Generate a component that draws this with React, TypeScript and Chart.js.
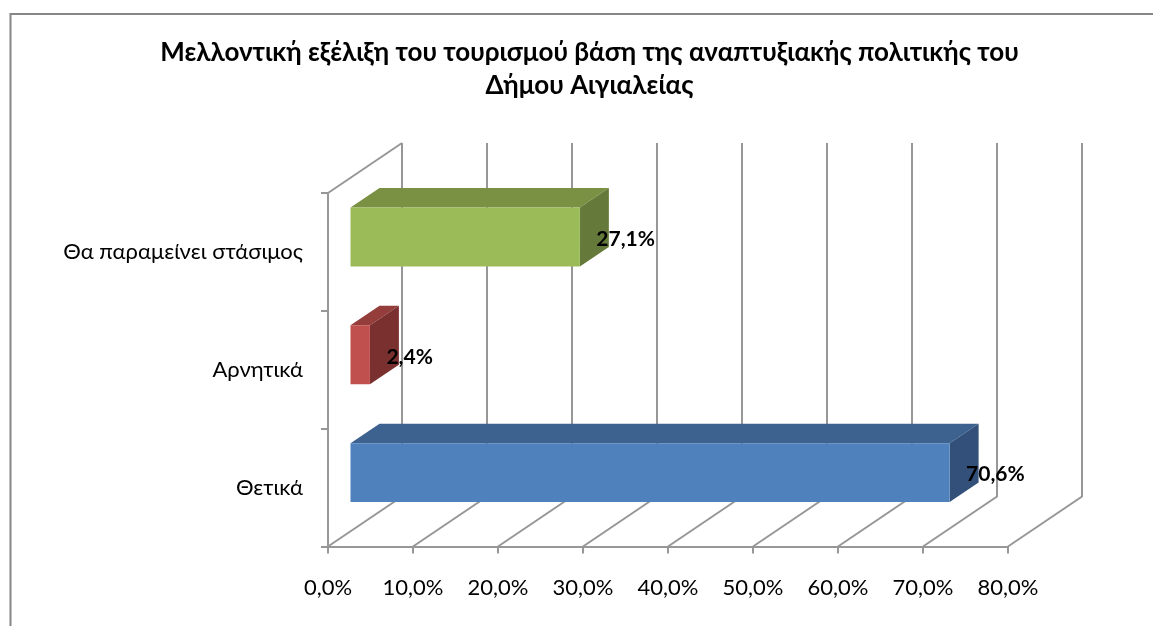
import React, { useEffect, useRef } from "react";
import { Chart, registerables } from "chart.js";

Chart.register(...registerables);

const FONT = "Lato, 'Noto Sans', sans-serif";
const titleLines = [
  "Μελλοντική εξέλιξη του τουρισμού βάση της αναπτυξιακής πολιτικής του",
  "Δήμου Αιγιαλείας",
];
const categories = ["Θα παραμείνει στάσιμος", "Αρνητικά", "Θετικά"];
const values = [27.1, 2.4, 70.6];
const frontColors = ["#9BBB59", "#C0504D", "#4F81BD"];
const topColors = ["#7A9144", "#943D3A", "#3D6290"];
const sideColors = ["#657A3A", "#7A302E", "#325079"];
const GRID = "#979797";
const DEPTH_X = 74;
const DEPTH_Y = -50;
const BAR_DX = 21.5;
const BAR_DY = -15;
const BAR_DEPTH_X = 29;
const BAR_DEPTH_Y = -19.5;

const pct = (v: number) => v.toFixed(1).replace(".", ",") + "%";

const poly = (ctx: CanvasRenderingContext2D, pts: number[][], fill: string) => {
  ctx.beginPath();
  pts.forEach(([x, y], i) => (i ? ctx.lineTo(x, y) : ctx.moveTo(x, y)));
  ctx.closePath();
  ctx.fillStyle = fill;
  ctx.fill();
};

const threeD = {
  id: "threeD",
  beforeDraw(chart: any) {
    const { ctx, width, height } = chart;
    ctx.save();
    ctx.strokeStyle = "#868686";
    ctx.lineWidth = 2;
    ctx.beginPath();
    ctx.moveTo(10.5, height);
    ctx.lineTo(10.5, 14);
    ctx.lineTo(width, 14);
    ctx.stroke();
    ctx.restore();
  },
  afterLayout(chart: any) {
    if (chart.titleBlock) {
      chart.titleBlock.left = 26;
      chart.titleBlock.right = chart.width;
    }
  },
  beforeDatasetsDraw(chart: any) {
    const { ctx, chartArea, scales } = chart;
    const { top, bottom, left } = chartArea;
    ctx.save();
    ctx.strokeStyle = GRID;
    ctx.lineWidth = 2;
    ctx.beginPath();
    ctx.moveTo(left, top);
    ctx.lineTo(left + DEPTH_X, top + DEPTH_Y);
    ctx.stroke();
    scales.x.ticks.forEach((t: any) => {
      const x = scales.x.getPixelForValue(t.value);
      ctx.beginPath();
      ctx.moveTo(x, bottom);
      ctx.lineTo(x + DEPTH_X, bottom + DEPTH_Y);
      ctx.lineTo(x + DEPTH_X, top + DEPTH_Y);
      ctx.stroke();
    });
    ctx.restore();
  },
  beforeDatasetDraw(chart: any, args: any) {
    const { ctx } = chart;
    ctx.save();
    ctx.translate(BAR_DX, BAR_DY);
    args.meta.data.forEach((bar: any, i: number) => {
      const x0 = bar.base;
      const x1 = bar.x;
      const y0 = bar.y - bar.height / 2;
      const y1 = bar.y + bar.height / 2;
      poly(ctx, [[x0, y0], [x1, y0], [x1 + BAR_DEPTH_X, y0 + BAR_DEPTH_Y], [x0 + BAR_DEPTH_X, y0 + BAR_DEPTH_Y]], topColors[i]);
      poly(ctx, [[x1, y0], [x1 + BAR_DEPTH_X, y0 + BAR_DEPTH_Y], [x1 + BAR_DEPTH_X, y1 + BAR_DEPTH_Y], [x1, y1]], sideColors[i]);
    });
  },
  afterDatasetDraw(chart: any) {
    chart.ctx.restore();
  },
  afterDatasetsDraw(chart: any) {
    const { ctx } = chart;
    const meta = chart.getDatasetMeta(0);
    ctx.save();
    ctx.font = `bold 21px ${FONT}`;
    ctx.fillStyle = "#000";
    ctx.textAlign = "left";
    ctx.textBaseline = "middle";
    meta.data.forEach((bar: any, i: number) => {
      ctx.fillText(pct(values[i]), bar.x + BAR_DX + 16.5, bar.y + BAR_DY + 2);
    });
    ctx.restore();
  },
};

export default function App() {
  const ref = useRef<HTMLCanvasElement>(null);
  useEffect(() => {
    const chart = new Chart(ref.current as HTMLCanvasElement, {
      type: "bar",
      plugins: [threeD],
      data: {
        labels: categories,
        datasets: [
          {
            data: values,
            backgroundColor: frontColors,
            barPercentage: 0.5,
            categoryPercentage: 1,
            clip: false,
          } as any,
        ],
      },
      options: {
        indexAxis: "y",
        animation: false,
        responsive: false,
        layout: { padding: { left: 0, right: 145, top: 0, bottom: 0 } },
        plugins: {
          legend: { display: false },
          tooltip: { enabled: false },
          title: {
            display: true,
            text: titleLines,
            color: "#000",
            font: { family: FONT, size: 26, weight: "bold", lineHeight: 33 / 26 },
            padding: { top: 36, bottom: 91 },
          },
        },
        scales: {
          x: {
            min: 0,
            max: 80,
            ticks: {
              stepSize: 10,
              autoSkip: false,
              maxRotation: 0,
              color: "#000",
              padding: 21,
              font: { family: FONT, size: 22 },
              callback: (v: any) => pct(Number(v)),
            },
            grid: { drawOnChartArea: false, color: GRID, lineWidth: 2, tickLength: 7 },
            border: { color: GRID, width: 2 },
            afterFit: (s: any) => {
              s.height = 79.5;
            },
          },
          y: {
            ticks: {
              color: "#000",
              padding: 18,
              font: { family: FONT, size: 22 },
            },
            grid: { drawOnChartArea: false, color: GRID, lineWidth: 2, tickLength: 7, offset: true },
            border: { color: GRID, width: 2 },
            afterFit: (s: any) => {
              s.width = 328;
            },
          },
        },
      } as any,
    });
    return () => chart.destroy();
  }, []);
  return (
    <div style={{ position: "absolute", left: 0, top: 0, width: 1153, height: 626, background: "#fff" }}>
      <canvas ref={ref} width={1153} height={626} style={{ display: "block" }} />
    </div>
  );
}
